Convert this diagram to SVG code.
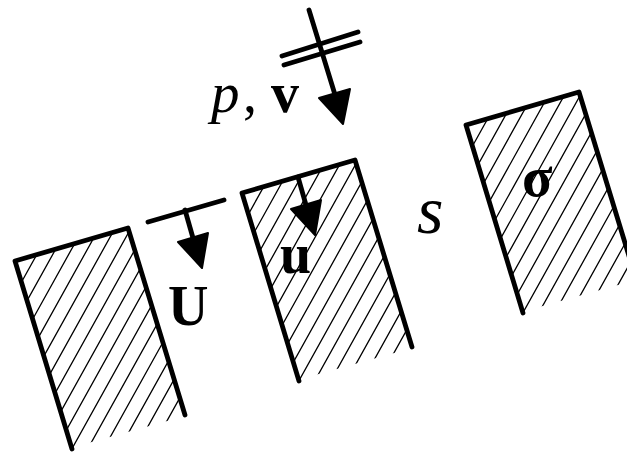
<svg xmlns="http://www.w3.org/2000/svg" width="627" height="452" viewBox="0 0 627 452">
<style>
.edge{fill:none;stroke:#000;stroke-width:4.8;stroke-linecap:round;stroke-linejoin:round}
.hatch{fill:none;stroke:#000;stroke-width:1.3}
.head{fill:#000;stroke:#000;stroke-width:2;stroke-linejoin:round}
text{font-family:"Liberation Serif","Times New Roman",serif;font-size:56px;fill:#000}
.b{font-weight:bold}
.i{font-style:italic}
</style>
<defs>
<clipPath id="c"><polygon points="15,261 128,228 187,415.5 72,447.5"/></clipPath>
<g id="block">
<path class="hatch" clip-path="url(#c)" d="M56,220L-77.4,460M71.9,220L-61.5,460M87.8,220L-45.6,460M103.7,220L-29.7,460M119.6,220L-13.8,460M135.5,220L2.1,460M151.4,220L18,460M167.3,220L33.9,460M183.2,220L49.8,460M199.1,220L65.7,460M215,220L81.6,460M230.9,220L97.5,460M246.8,220L113.4,460M262.7,220L129.3,460M278.6,220L145.2,460"/>
<path class="edge" d="M72,449L15,261L128,228L185,415"/>
</g>
<g id="arrow">
<path class="edge" d="M185,210L193,238"/>
<polygon class="head" points="178,242 208,233 202,268"/>
</g>
</defs>
<g id="wall-left"><use href="#block"/></g>
<g id="wall-middle"><use href="#block" x="227" y="-68"/></g>
<g id="wall-right"><use href="#block" x="451" y="-136"/></g>
<g id="connectors">
<path class="edge" d="M309,10L336,98"/>
<path class="edge" d="M282,56L358,32"/>
<path class="edge" d="M284,65L360,42"/>
<polygon class="head" points="319,98 350,89 343,124"/>
<path class="edge" d="M148,222L224,200"/>
<use href="#arrow"/>
<use href="#arrow" x="113" y="-33"/>
</g>
<g id="labels">
<text y="112"><tspan class="i" x="211" style="font-size:57px">p</tspan><tspan x="243">,</tspan> <tspan class="b" x="271">v</tspan></text>
<text x="417" y="233" class="i" style="font-size:68px">s</text>
<text x="168" y="325" class="b">U</text>
<text x="280" y="273" class="b">u</text>
<text x="522" y="196" class="b">σ</text>
</g>
</svg>
